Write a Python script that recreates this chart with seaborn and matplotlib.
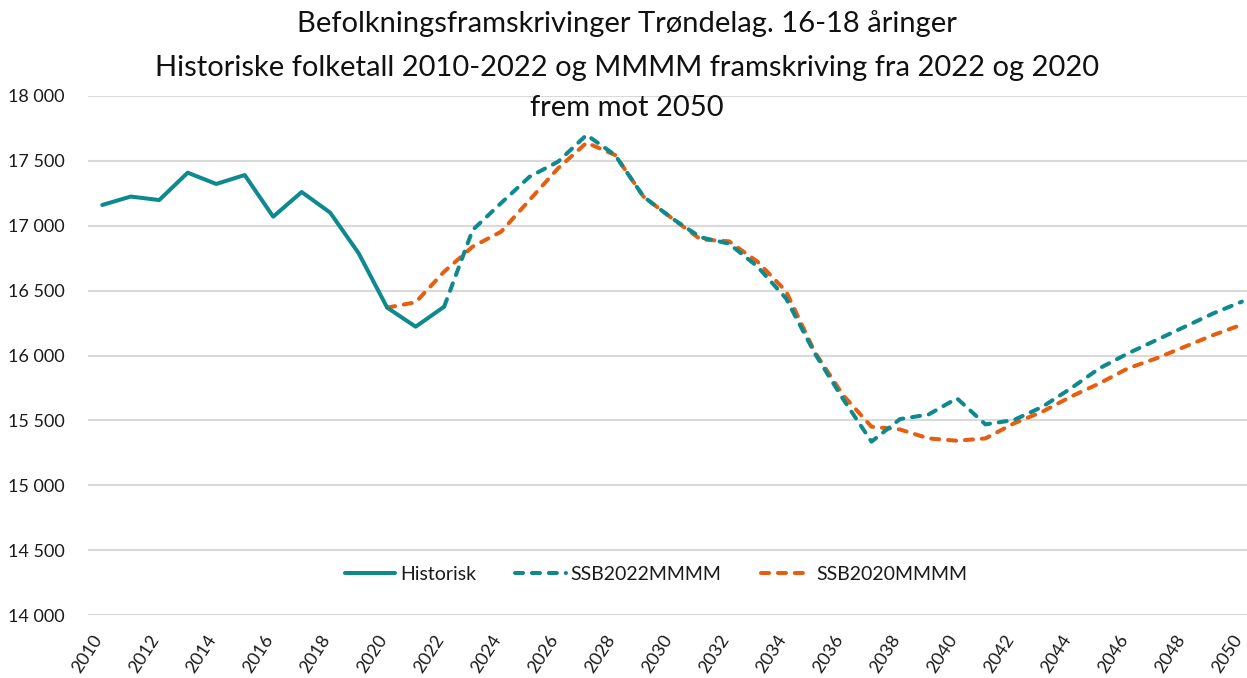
import numpy as np
import pandas as pd
import seaborn as sns
import matplotlib.pyplot as plt
from matplotlib.transforms import ScaledTranslation

# historical counts, 16-18 year olds in Trøndelag
years_hist = [2010, 2011, 2012, 2013, 2014, 2015, 2016, 2017, 2018, 2019, 2020, 2021, 2022]
historisk = [17160, 17225, 17198, 17409, 17322, 17391, 17070, 17260, 17101, 16788, 16369, 16222, 16376]

# SSB projection 2022 (MMMM)
years_2022 = list(range(2022, 2051))
ssb2022 = [16376, 16967, 17175, 17378, 17494, 17700, 17545, 17224, 17057, 16911, 16862,
           16685, 16440, 16020, 15665, 15336, 15510, 15545, 15670, 15469, 15503, 15605,
           15747, 15901, 16016, 16119, 16222, 16325, 16415]

# SSB projection 2020 (MMMM)
years_2020 = list(range(2020, 2051))
ssb2020 = [16369, 16410, 16646, 16839, 16954, 17199, 17443, 17640, 17545, 17224, 17057,
           16895, 16880, 16723, 16495, 16030, 15695, 15451, 15430, 15361, 15343, 15361,
           15477, 15567, 15683, 15785, 15901, 15978, 16068, 16158, 16238]

teal = '#0E8A8F'
orange = '#E65F10'

sns.set_style('white')
plt.rcParams['font.family'] = ['Lato', 'DejaVu Sans']

fig = plt.figure(figsize=(12.47, 6.78), dpi=100)
ax = fig.add_axes([88 / 1247, 1 - 615 / 678, 1 - 88 / 1247, (615 - 96) / 678])

hist_df = pd.DataFrame({'year': years_hist, 'value': historisk})
df22 = pd.DataFrame({'year': years_2022, 'value': ssb2022})
df20 = pd.DataFrame({'year': years_2020, 'value': ssb2020})

lw = 2.9
sns.lineplot(data=df20, x='year', y='value', ax=ax, color=orange, lw=lw,
             label='SSB2020MMMM', zorder=3)
sns.lineplot(data=df22, x='year', y='value', ax=ax, color=teal, lw=lw,
             label='SSB2022MMMM', zorder=4)
sns.lineplot(data=hist_df, x='year', y='value', ax=ax, color=teal, lw=lw,
             label='Historisk', zorder=5)

lines = ax.get_lines()
for ln in lines[:2]:
    ln.set_dashes((2.0, 2.2))
    ln.set_dash_capstyle('round')
lines[2].set_solid_capstyle('round')

ax.set_xlim(2009.5, 2050.18)
ax.set_ylim(14000, 18000)
ax.set_yticks(np.arange(14000, 18001, 500))
ax.set_yticklabels([f'{v:,}'.replace(',', ' ') for v in range(14000, 18001, 500)])
ax.set_xticks(range(2010, 2051, 2))
ax.set_xticklabels([str(y) for y in range(2010, 2051, 2)], rotation=57,
                   ha='right', rotation_mode='anchor')
ax.tick_params(axis='both', length=0, labelsize=13, colors='#1a1a1a')
ax.tick_params(axis='x', pad=12)
ax.tick_params(axis='y', pad=17)
# nudge the rotated year labels left so 2050 stays inside the figure
shift = ScaledTranslation(-10 / 100, 0, fig.dpi_scale_trans)
for lbl in ax.get_xticklabels():
    lbl.set_transform(lbl.get_transform() + shift)
ax.yaxis.grid(True, color='#D9D9D9', lw=1.5)
ax.set_axisbelow(True)
for s in ax.spines.values():
    s.set_visible(False)
ax.set_xlabel(None)
ax.set_ylabel(None)

handles, labels = ax.get_legend_handles_labels()
order = [2, 1, 0]
leg = ax.legend([handles[i] for i in order], [labels[i] for i in order],
                loc='center', bbox_to_anchor=(0.49, 1 - (574 - 96) / (615 - 96)),
                ncol=3, frameon=False, fontsize=14, handlelength=2.6,
                handletextpad=0.25, columnspacing=2.0)
for t in leg.get_texts():
    t.set_color('#1a1a1a')

title_kw = dict(ha='center', va='center', fontsize=21, color='#111111')
fig.text(627 / 1247, 1 - 24 / 678, 'Befolkningsframskrivinger Trøndelag. 16-18 åringer', **title_kw)
fig.text(627 / 1247, 1 - 68 / 678,
         'Historiske folketall 2010-2022 og MMMM framskriving fra 2022 og 2020', **title_kw)
fig.text(627 / 1247, 1 - 108 / 678, 'frem mot 2050', **title_kw)

fig.savefig('out.png', dpi=100)
